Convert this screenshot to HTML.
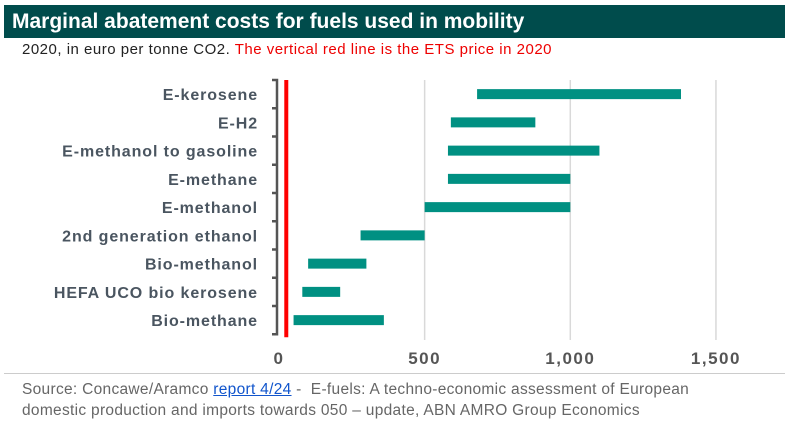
<!DOCTYPE html>
<html><head><meta charset="utf-8"><style>
body{margin:0;width:789px;height:421px;background:#fff;font-family:"Liberation Sans",sans-serif;overflow:hidden;position:relative}
#hdr{position:absolute;left:4px;top:5px;width:781px;height:33px;background:#004c4c;color:#fff;font-weight:bold;font-size:21px;line-height:33px;padding-left:8px;box-sizing:border-box}
#sub{position:absolute;left:22px;top:41px;font-size:15px;letter-spacing:0.5px;color:#222}
#sub span{color:#e00}
#foot{position:absolute;left:22px;top:379px;font-size:15.5px;letter-spacing:0.3px;color:#666;line-height:21px;width:705px}
#foot a{color:#1155cc;text-decoration:underline}
#div{position:absolute;left:4px;top:373px;width:781px;height:1px;background:#ccc}
</style></head><body>
<div id="hdr">Marginal abatement costs for fuels used in mobility</div>
<div id="sub">2020, in euro per tonne CO2. <span>The vertical red line is the ETS price in 2020</span></div>
<svg id="chart" width="789" height="421" style="position:absolute;left:0;top:0"></svg>
<div id="div"></div>
<div id="foot">Source: Concawe/Aramco <a>report 4/24</a> -&nbsp; E-fuels: A techno-economic assessment of European domestic production and imports towards 050 – update, ABN AMRO Group Economics</div>
<script>
const categories=["E-kerosene","E-H2","E-methanol to gasoline","E-methane","E-methanol","2nd generation ethanol","Bio-methanol","HEFA UCO bio kerosene","Bio-methane"];
const lowValues=[680,590,580,580,500,280,100,80,50];
const highValues=[1380,880,1100,1000,1000,500,300,210,360];
const tickValues=[0,500,1000,1500];
const tickLabels=["0","500","1,000","1,500"];
const etsPrice=25;
const svg=document.getElementById('chart');
const NS='http://www.w3.org/2000/svg';
const x=v=>279+v*0.2913;
const top0=80,rowH=28.25;
const y=i=>top0+rowH*(i+0.5);
function mk(t,a){const e=document.createElementNS(NS,t);for(const k in a)e.setAttribute(k,a[k]);svg.appendChild(e);return e;}
tickValues.forEach((v,i)=>{
 if(v>0){const g=mk('line',{x1:x(v),x2:x(v),y1:top0,y2:340,stroke:'#d9d9d9','stroke-width':1.5});
 
 }
 const t=mk('text',{x:x(v),y:364,'text-anchor':'middle','font-size':17,'letter-spacing':1.5,'font-weight':'bold',fill:'#555','font-family':'Liberation Sans, sans-serif'});
 t.textContent=tickLabels[i];
 
 
});
const ax=mk('path',{d:'M272 '+top0+' H277 V'+(top0+rowH*categories.length)+' H272',fill:'none',stroke:'#555','stroke-width':2.5});


categories.forEach((c,i)=>{
 if(i>0){const tk=mk('line',{x1:272,x2:277,y1:top0+rowH*i,y2:top0+rowH*i,stroke:'#555','stroke-width':2.5});
 
 }
 const t=mk('text',{x:258,y:y(i)+6,'text-anchor':'end','font-size':16,'letter-spacing':0.9,'font-weight':'bold',fill:'#4a5560','font-family':'Liberation Sans, sans-serif'});
 t.textContent=c;
 
 
 const b=mk('rect',{x:x(lowValues[i]),y:y(i)-5,width:x(highValues[i])-x(lowValues[i]),height:10,fill:'#009082'});
 
 
});
const r=mk('line',{x1:x(etsPrice),x2:x(etsPrice),y1:top0,y2:top0+rowH*categories.length+3,stroke:'#f00','stroke-width':4});


</script>
</body></html>
